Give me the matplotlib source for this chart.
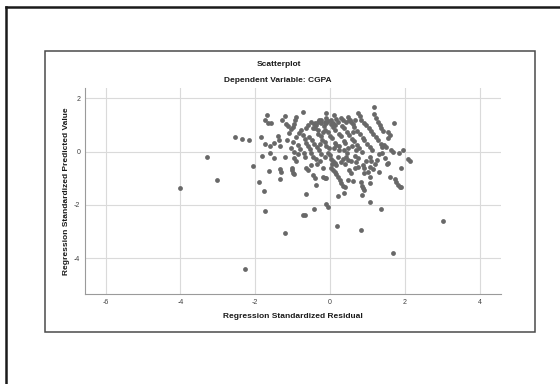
import matplotlib
matplotlib.use("Agg")
import matplotlib.pyplot as plt
from matplotlib.lines import Line2D
from matplotlib.patches import Rectangle

plt.rcParams['font.family'] = ['Liberation Sans', 'DejaVu Sans']
plt.rcParams['axes.unicode_minus'] = False

title = "Scatterplot"
subtitle = "Dependent Variable: CGPA"
x_label = "Regression Standardized Residual"
y_label = "Regression Standardized Predicted Value"
x_ticks = [-6, -4, -2, 0, 2, 4]
y_ticks = [-4, -2, 0, 2]

residual = [
    -4.02, -3.28, -3.01, -2.53, -2.36, -2.17, -2.26, -2.06, -1.90, -1.77,
    -1.75, -1.21, -0.72, -0.67, -0.43, -0.12, -0.05, 0.19, 0.83, 1.35,
    1.08, 1.68, 3.03, -0.64, 0.21, 0.38, 0.86, 0.91,
    -1.84, -1.68, -1.73, -1.66, -1.57, -1.73, -1.50, -1.60, -1.39, -1.37,
    -1.35, -1.60, -1.81, -1.50, -1.64, -1.35, -1.32, -1.33, -1.21, -1.28,
    -1.21, -1.17, -1.12,
    -0.90, -0.93, -0.96, -0.99, -1.04, -1.10, -0.71, -0.77, -0.90, -0.72,
    -0.68, -0.63, -0.59, -0.53, -0.50, -1.00, -1.05, -0.85, -0.80, -1.15,
    -0.95, -0.70, -0.85, -0.95, -0.90, -0.68, -1.03, -0.99, -0.95, -1.03,
    -0.63, -0.59, -0.50, -0.82, -0.60, -0.65,
    -0.46, -0.37, -0.28, -0.14, -0.46, -0.41, -0.37, -0.19, -0.14, -0.10,
    -0.50, -0.44, -0.41, -0.33, -0.31, -0.24, -0.21, -0.14, -0.11, -0.04,
    -0.30, -0.25, -0.17, -0.13, -0.05, -0.41, -0.37, -0.46, -0.32, -0.23,
    -0.14, -0.10, -0.12, -0.12, -0.06, -0.55, -0.48, -0.42, -0.36, -0.30,
    -0.25, -0.05, -0.20, -0.28, -0.35, -0.20,
    0.03, 0.08, 0.21, 0.35, 0.43, 0.48, 0.03, 0.08, 0.12, 0.17,
    0.21, 0.26, 0.30, 0.35, 0.39, 0.12, 0.17, 0.48, 0.52, 0.01,
    0.05, 0.13, 0.17, 0.25, 0.02, 0.09, 0.14, 0.23, 0.29, 0.37,
    0.41, 0.49, 0.11, 0.16, 0.22, 0.31, 0.37, 0.46, 0.03, 0.08,
    0.12, 0.00, 0.05, 0.30, 0.40, 0.28, 0.35, 0.42, 0.25, 0.10,
    0.38, 0.45,
    0.66, 0.75, 0.61, 0.57, 0.66, 0.75, 0.84, 0.85, 0.88, 0.92,
    0.88, 0.92, 0.55, 0.70, 0.95, 0.52, 0.59, 0.64, 0.73, 0.77,
    0.48, 0.54, 0.61, 0.65, 0.73, 0.79, 0.87, 0.92, 0.75, 0.79,
    0.84, 0.91, 0.97, 0.52, 0.55, 0.60, 0.70, 0.85, 0.62, 0.68,
    1.06, 1.10, 1.46, 1.55, 2.08, 2.15, 1.01, 1.06, 1.06, 1.06,
    1.15, 1.31, 1.59, 1.73, 1.77, 1.82, 1.86, 1.91, 1.53, 1.91,
    1.20, 1.25, 1.00, 1.06, 1.12, 1.03, 1.10, 1.16, 1.22, 1.28,
    1.35, 1.40, 1.17, 1.17, 1.23, 1.28, 1.33, 1.37, 1.41, 1.70,
    1.55, 1.95, 1.55, 1.59, 1.44, 1.50, 1.63, 1.68, 1.85, 1.30,
    1.40,
]

predicted = [
    -1.38, -0.21, -1.06, 0.55, 0.47, 0.44, -4.42, -0.54, -1.13, -1.48,
    -2.22, -3.06, -2.38, -2.38, -2.17, -1.97, -2.09, -2.79, -2.93, -2.17,
    -1.88, -3.80, -2.59, -1.59, -1.67, -1.54, -1.63, -1.43,
    0.55, 1.38, 1.17, 1.09, 1.07, 0.27, 0.34, 0.22, 0.58, 0.44,
    0.21, -0.04, -0.16, -0.24, -0.72, -0.65, -0.77, -1.04, -0.19, 1.17,
    1.32, 1.04, 0.97,
    1.29, 1.17, 1.04, 0.94, 0.84, 0.69, 1.47, 0.82, 0.56, 0.63,
    0.46, 0.34, 0.21, 0.09, -0.06, 0.35, 0.15, 0.25, 0.10, 0.45,
    0.00, -0.05, -0.10, -0.25, -0.35, -0.22, -0.60, -0.81, -0.85, -0.69,
    -0.63, -0.69, -0.50, 0.70, 1.00, 0.90,
    -0.19, -0.27, -0.37, -0.19, -0.88, -1.00, -1.25, -0.94, -1.00, -0.98,
    1.13, 1.04, 0.90, 0.83, 0.68, 0.60, 0.44, 0.37, 0.20, 0.12,
    1.18, 1.06, 0.97, 0.82, 0.74, 1.07, 1.00, 0.88, 1.13, 1.19,
    1.13, 1.07, 1.44, 1.25, 1.15, 0.55, 0.42, 0.30, 0.18, 0.05,
    -0.08, -0.05, 0.75, 0.30, -0.45, -0.60,
    -0.27, -0.35, -0.22, -0.27, -0.19, -0.31, -0.63, -0.69, -0.75, -0.85,
    -0.94, -1.06, -1.19, -1.28, -1.34, -0.44, -0.50, -1.06, -0.69, 0.58,
    0.50, 0.34, 0.24, 0.06, 1.05, 0.91, 0.82, 0.66, 0.57, 0.40,
    0.32, 0.13, 1.38, 1.22, 1.12, 0.98, 0.90, 0.74, 1.19, 1.09,
    1.00, -0.12, -0.45, -0.40, -0.45, 1.25, 1.18, 1.10, 0.20, 0.15,
    0.05, -0.05,
    -0.16, -0.25, -1.10, -0.81, -0.63, -0.56, -1.13, -1.28, -1.38, -0.81,
    -0.50, -0.60, -0.35, -0.40, -0.35, 0.64, 0.48, 0.40, 0.23, 0.14,
    1.30, 1.18, 1.03, 0.94, 0.78, 0.68, 0.53, 0.44, 1.44, 1.32,
    1.19, 1.07, 1.00, 1.19, 1.10, 0.20, 0.05, 0.00, 0.75, 1.20,
    -0.19, -0.35, -0.25, -0.44, -0.27, -0.37, -0.75, -0.94, -1.19, -0.56,
    -0.65, -0.75, -0.94, -1.03, -1.13, -1.25, -1.33, -1.34, -0.48, -0.60,
    -0.45, -0.30, 0.30, 0.18, 0.06, 0.88, 0.78, 0.66, 0.56, 0.45,
    0.30, 0.18, 1.67, 1.41, 1.25, 1.13, 1.00, 0.88, 0.78, 1.07,
    0.50, 0.06, 0.75, 0.63, 0.25, 0.18, 0.06, 0.00, -0.05, -0.10,
    -0.05,
]

W, H = 560, 384
fig = plt.figure(figsize=(W / 100, H / 100), dpi=100)


def fx(px):
    return px / W


def fy(py):
    return 1 - py / H


# outer (cropped) frame: left and top edges
fig.add_artist(Line2D([fx(6), fx(6)], [0, fy(7)], color='#1a1a1a', lw=1.8))
fig.add_artist(Line2D([fx(6), 1], [fy(7), fy(7)], color='#1a1a1a', lw=1.8))
# inner frame
fig.add_artist(Rectangle((fx(45), fy(332)), fx(535) - fx(45), fy(51) - fy(332),
                         fill=False, ec='#4a4a4a', lw=1.1))

ax = fig.add_axes([fx(85), fy(294), fx(501) - fx(85), fy(88) - fy(294)])
ax.scatter(residual, predicted, s=12, color='#686868', linewidths=0, zorder=3)

ax.set_xlim(-6.55, 4.57)
ax.set_ylim(-5.35, 2.39)
ax.set_xticks(x_ticks)
ax.set_yticks(y_ticks)
ax.tick_params(length=0, labelsize=5, colors='#404040', pad=3.5)
ax.grid(True, color='#dadada', lw=0.8, zorder=0)
ax.set_axisbelow(True)
for s in ['top', 'right']:
    ax.spines[s].set_visible(False)
for s in ['left', 'bottom']:
    ax.spines[s].set_color('#9a9a9a')
    ax.spines[s].set_linewidth(0.8)

fig.text(fx(279), fy(64), title, ha='center', va='center', fontsize=6, fontweight='bold', color='#1a1a1a')
fig.text(fx(278), fy(81), subtitle, ha='center', va='center', fontsize=6, fontweight='bold', color='#1a1a1a')
fig.text(fx(293), fy(317), x_label, ha='center', va='center', fontsize=6, fontweight='bold', color='#1a1a1a')
fig.text(fx(66), fy(191), y_label, ha='center', va='center', rotation=90, fontsize=6, fontweight='bold', color='#1a1a1a')

fig.savefig('out.png', dpi=100, facecolor='white')
